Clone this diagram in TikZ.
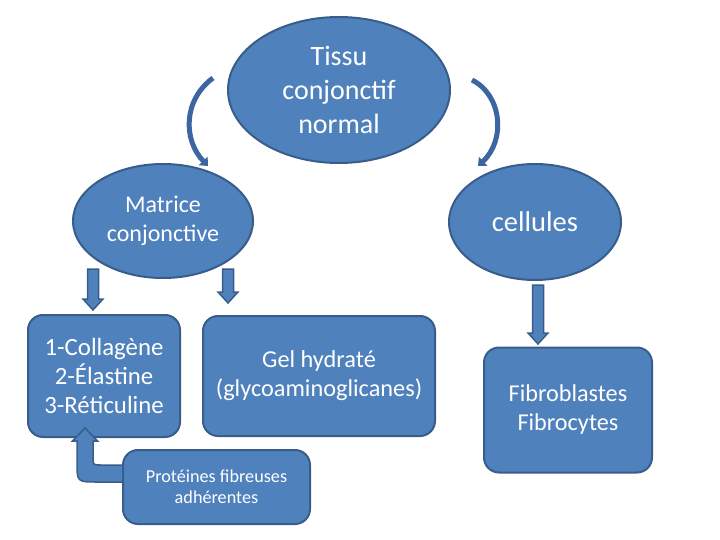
\documentclass[tikz,border=0pt]{standalone}
\usepackage{fontspec}
\setmainfont{Carlito}
\usetikzlibrary{arrows.meta,shapes.geometric}
\definecolor{bfill}{HTML}{4F81BD}
\definecolor{bline}{HTML}{385D8A}
\definecolor{carrow}{HTML}{3C66A2}
\tikzset{
  ell/.style={ellipse, fill=bfill, draw=bline, line width=2pt, text=white, align=center, inner sep=0pt},
  rbox/.style={rectangle, rounded corners=15pt, fill=bfill, draw=bline, line width=2pt, text=white, align=center, inner sep=0pt},
  blockarrow/.style={fill=bfill, draw=bline, line width=1.5pt, line join=miter},
  curvearrow/.style={draw=carrow, line width=5pt, -{Triangle[width=12pt,length=7pt]}},
}
\begin{document}
\begin{tikzpicture}[x=1pt,y=-1pt]
\useasboundingbox (0,0) rectangle (720,540);
% ellipses
\node[ell, minimum width=222pt, minimum height=146pt, font=\fontsize{28}{34}\selectfont] (tissu) at (339,90) {Tissu\\conjonctif\\normal};
\node[ell, minimum width=180pt, minimum height=114pt, font=\fontsize{24}{29}\selectfont] (mat) at (163,221) {Matrice\\conjonctive};
\node[ell, minimum width=172pt, minimum height=116pt, font=\fontsize{28.5}{33}\selectfont] (cel) at (535,222) {cellules};
% boxes
\node[rbox, minimum width=152pt, minimum height=122pt, font=\fontsize{24.8}{29}\selectfont] (b1) at (104,376) {1-Collagène\\2-Élastine\\3-Réticuline};
\node[rbox, minimum width=232pt, minimum height=120pt, font=\fontsize{24.3}{29}\selectfont] (b2) at (319,376) {Gel hydraté\\(glycoaminoglicanes)};
\node[rbox, minimum width=168pt, minimum height=125pt, font=\fontsize{24.2}{29}\selectfont] (b3) at (568,410) {Fibroblastes\\Fibrocytes};
\node[rbox, minimum width=187pt, minimum height=74pt, font=\fontsize{18.2}{21}\selectfont] (b4) at (216.5,487) {Protéines fibreuses\\adhérentes};
% curved arrows
\coordinate (l1) at (213,78);
\coordinate (l2) at (208,166);
\coordinate (r1) at (472,80);
\coordinate (r2) at (478,166);
\draw[curvearrow] (l1) .. controls (183,100) and (183,140) .. (l2);
\draw[curvearrow] (r1) .. controls (502,95) and (506,140) .. (r2);
% block down arrows
\draw[blockarrow] (87.5,269) -- (98.5,269) -- (98.5,299) -- (103,299) -- (93,310) -- (83,299) -- (87.5,299) -- cycle;
\draw[blockarrow] (222.5,269) -- (233.5,269) -- (233.5,292) -- (238,292) -- (228,303) -- (218,292) -- (222.5,292) -- cycle;
\draw[blockarrow] (532.5,285) -- (543.5,285) -- (543.5,333) -- (548,333) -- (538,344) -- (528,333) -- (532.5,333) -- cycle;
% bent arrow from b4 to b1
\draw[blockarrow] (b4.west |- 0,465) -- (101,465) .. controls (93,465) .. (93,457) -- (93,441) -- (97.5,441) -- (85,428) -- (72.5,441) -- (77,441) -- (77,462) .. controls (77,482) .. (97,482) -- (b4.west |- 0,482);
\end{tikzpicture}
\end{document}
